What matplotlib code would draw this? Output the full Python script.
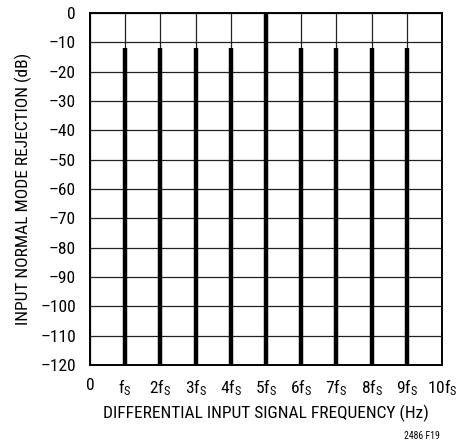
"""Normal mode rejection vs differential input frequency (2486 F19)."""

import matplotlib
matplotlib.use("Agg")
import matplotlib.pyplot as plt
from matplotlib import font_manager

names = {f.name for f in font_manager.fontManager.ttflist}
FONT = next((n for n in ("Roboto Condensed", "Archivo Narrow", "Liberation Sans") if n in names), "DejaVu Sans")
plt.rcParams["font.family"] = [FONT, "DejaVu Sans"]
plt.rcParams["mathtext.fontset"] = "custom"
plt.rcParams["mathtext.rm"] = FONT
plt.rcParams["mathtext.it"] = FONT

# multiples of the sample frequency and the rejection at each (dB)
harmonic = [1, 2, 3, 4, 5, 6, 7, 8, 9]
rejection_db = [-12, -12, -12, -12, 0, -12, -12, -12, -12]
x_ticks = list(range(11))
x_labels = ["0", "f$_\\mathregular{S}$"] + [f"{n}f$_\\mathregular{{S}}$" for n in range(2, 11)]
y_ticks = list(range(-120, 1, 10))
y_labels = ["0" if v == 0 else f"\u2013{-v}" for v in y_ticks]

fig = plt.figure(figsize=(4.6, 4.42), dpi=100)
ax = fig.add_axes([90 / 460, 1 - 365 / 442, 352 / 460, 352 / 442])

ax.vlines(harmonic, -120, rejection_db, colors="black", lw=3.2, zorder=3)

ax.set_xlim(0, 10)
ax.set_ylim(-120, 0)
ax.set_xticks(x_ticks)
ax.set_xticklabels(x_labels, fontsize=12.5)
ax.set_yticks(y_ticks)
ax.set_yticklabels(y_labels, fontsize=12.5)
ax.tick_params(length=0)
ax.tick_params(axis="y", pad=10)
ax.tick_params(axis="x", pad=9)
ax.grid(True, color="#222222", lw=0.9)
ax.set_axisbelow(True)
for s in ax.spines.values():
    s.set_linewidth(1.4)

ax.set_xlabel("DIFFERENTIAL INPUT SIGNAL FREQUENCY (Hz)", fontsize=12.5, labelpad=5)
ax.set_ylabel("INPUT NORMAL MODE REJECTION (dB)", fontsize=12.5, labelpad=6)
fig.text(440 / 460, 1 - 436 / 442, "2486 F19", fontsize=7, ha="right", va="center")

fig.savefig("out.png", dpi=100)
